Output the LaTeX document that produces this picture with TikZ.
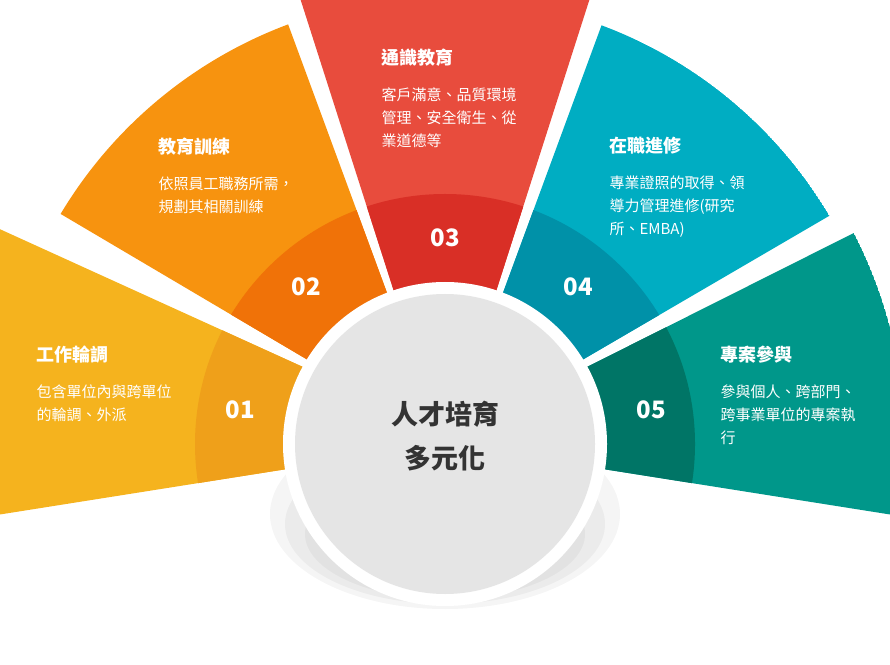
\documentclass[tikz,border=0pt]{standalone}
\usepackage{fontspec}
\newfontfamily\cjk{Noto Sans CJK TC}
\usetikzlibrary{shadows.blur}
\definecolor{aL}{HTML}{F5B31E}\definecolor{aD}{HTML}{EFA01A}
\definecolor{bL}{HTML}{F7930F}\definecolor{bD}{HTML}{F07208}
\definecolor{cL}{HTML}{E84C3D}\definecolor{cD}{HTML}{D92F26}
\definecolor{dL}{HTML}{00ADC2}\definecolor{dD}{HTML}{0091A8}
\definecolor{eL}{HTML}{00978A}\definecolor{eD}{HTML}{007566}
\tikzset{ttl/.style={anchor=west,text=white,font=\cjk\bfseries\fontsize{18}{21}\selectfont},
 bod/.style={anchor=north west,text=white,align=left,font=\cjk\fontsize{15}{23}\selectfont},
 num/.style={text=white,font=\cjk\bfseries\fontsize{24}{28}\selectfont}}
\begin{document}
\begin{tikzpicture}[x=1pt,y=1pt]
\useasboundingbox (0,0) rectangle (890,664);
\clip (0,0) rectangle (890,664);
\coordinate (O) at (445,220);
\foreach \ia/\oa/\ob/\ib/\R/\L/\D in {151.5/154.3/189/189/520/aL/aD, 111/110.5/149.1/148.5/448/bL/bD, 71.5/72/108/108.5/480/cL/cD, 31.5/30.7/69.5/69/447/dL/dD, -9/-9/27.3/28.5/460/eL/eD}{
 \begin{scope}
 \path[clip] (O) -- ($(O)+(\ia:160)$) -- ($(O)+(\oa:\R)$) arc[start angle=\oa,end angle=\ob,radius=\R] -- ($(O)+(\ib:160)$) -- cycle;
 \fill[\L] (O) circle (\R);
 \fill[\D] (O) circle (250);
 \end{scope}
}
\begin{scope}
\clip (0,0) rectangle (890,220);
\fill[black,opacity=0.04] (445,150) ellipse (175 and 95);
\fill[black,opacity=0.04] (445,140) ellipse (160 and 80);
\fill[black,opacity=0.04] (445,130) ellipse (140 and 65);
\end{scope}
\fill[white] (O) circle (162);
\node[circle,fill=black!10,minimum size=300pt] (C) at (O) {};
\node[font=\cjk\bfseries\fontsize{27}{30}\selectfont,text=black!80,align=center] (ct) at (445,228) {人才培育\\[14pt]多元化};
\node[ttl] (t1) at (33,309) {工作輪調};
\node[bod] (b1) at (33,283) {包含單位內與跨單位\\的輪調、外派};
\node[num] (n1) at (240,254) {01};
\node[ttl] (t2) at (155,517) {教育訓練};
\node[bod] (b2) at (155,491) {依照員工職務所需，\\規劃其相關訓練};
\node[num] (n2) at (306,377) {02};
\node[ttl] (t3) at (378,606) {通識教育};
\node[bod] (b3) at (378,580) {客戶滿意、品質環境\\管理、安全衛生、從\\業道德等};
\node[num] (n3) at (445,426) {03};
\node[ttl] (t4) at (606,518) {在職進修};
\node[bod] (b4) at (606,492) {專業證照的取得、領\\導力管理進修(研究\\所、EMBA)};
\node[num] (n4) at (578,377) {04};
\node[ttl] (t5) at (717,309) {專案參與};
\node[bod] (b5) at (717,283) {參與個人、跨部門、\\跨事業單位的專案執\\行};
\node[num] (n5) at (651,254) {05};
\end{tikzpicture}
\end{document}
